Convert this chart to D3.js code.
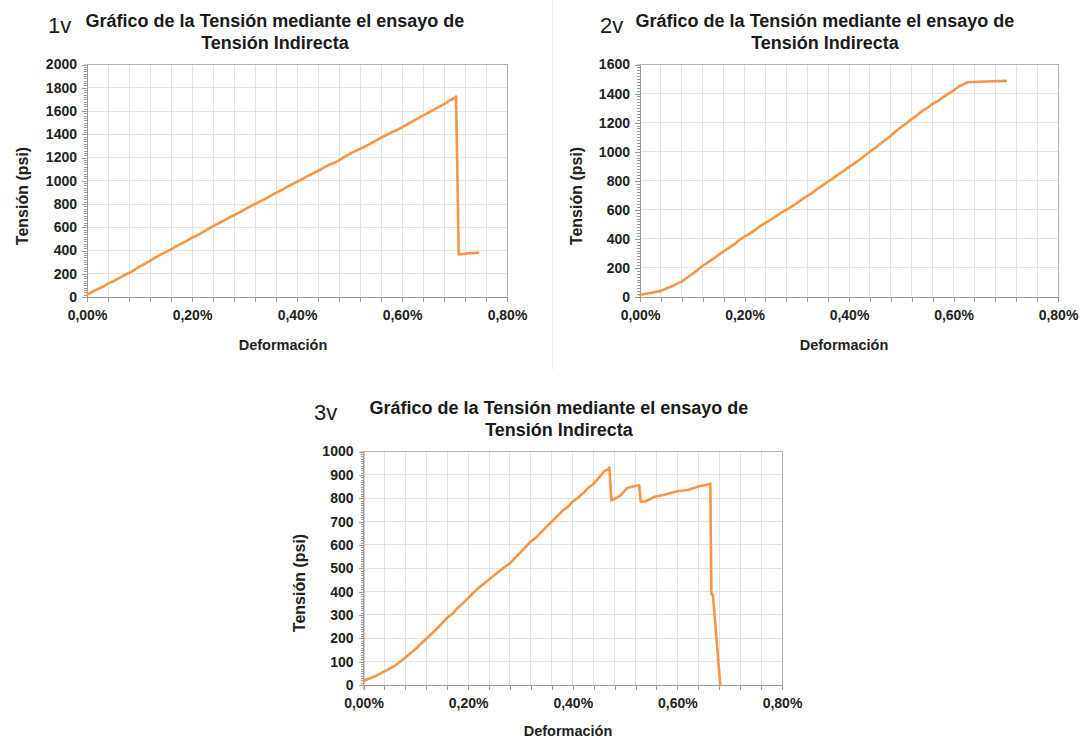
<!DOCTYPE html>
<html>
<head>
<meta charset="utf-8">
<script src="https://cdn.jsdelivr.net/npm/d3@7"></script>
<style>
  html, body { margin: 0; padding: 0; background: #ffffff; }
  svg { display: block; }
  text { font-family: "Liberation Sans", Arial, sans-serif; }
</style>
</head>
<body>
<svg id="chart" width="1084" height="742"></svg>
<script>
// Indirect tensile test: stress (psi) vs. strain (%) for three specimens

const titleLines = ["Gráfico de la Tensión mediante el ensayo de", "Tensión Indirecta"];
const xAxisTitle = "Deformación";
const yAxisTitle = "Tensión (psi)";

// Strain axis ticks (shared by the three charts)
const xTickValues = [0, 0.2, 0.4, 0.6, 0.8];
const xTickLabels = ["0,00%", "0,20%", "0,40%", "0,60%", "0,80%"];
const xGridValues = [0, 0.04, 0.08, 0.12, 0.16, 0.2, 0.24, 0.28, 0.32, 0.36, 0.4,
                     0.44, 0.48, 0.52, 0.56, 0.6, 0.64, 0.68, 0.72, 0.76, 0.8];

// Specimen 1v
const strain1 = [0, 0.01, 0.02, 0.03, 0.04, 0.05, 0.06, 0.07, 0.08, 0.09, 0.10, 0.11, 0.12, 0.13,
                 0.14, 0.15, 0.16, 0.17, 0.18, 0.19, 0.20, 0.21, 0.22, 0.23, 0.24, 0.25, 0.26,
                 0.27, 0.28, 0.29, 0.30, 0.31, 0.32, 0.33, 0.34, 0.35, 0.36, 0.37, 0.38, 0.39,
                 0.40, 0.41, 0.42, 0.43, 0.44, 0.45, 0.46, 0.47, 0.48, 0.49, 0.50, 0.51, 0.52,
                 0.53, 0.54, 0.55, 0.56, 0.57, 0.58, 0.59, 0.60, 0.61, 0.62, 0.63, 0.64, 0.65,
                 0.66, 0.67, 0.68, 0.69, 0.700, 0.703, 0.708, 0.725, 0.745];
const stress1 = [20, 45, 68, 88, 115, 135, 160, 185, 208, 232, 262, 285, 310, 338,
                 364, 386, 410, 436, 460, 483, 510, 530, 555, 582, 610, 632, 655,
                 680, 705, 726, 752, 778, 800, 822, 845, 872, 896, 918, 945, 968,
                 990, 1015, 1040, 1062, 1085, 1110, 1135, 1152, 1176, 1205, 1230, 1252, 1275,
                 1296, 1320, 1346, 1370, 1392, 1415, 1436, 1460, 1486, 1510, 1536, 1560, 1584,
                 1610, 1636, 1660, 1688, 1712, 1725, 365, 375, 380];
const yTicks1 = [0, 200, 400, 600, 800, 1000, 1200, 1400, 1600, 1800, 2000];

// Specimen 2v
const strain2 = [0, 0.02, 0.04, 0.05, 0.06, 0.07, 0.08, 0.09, 0.10, 0.11, 0.12, 0.13, 0.14, 0.15,
                 0.16, 0.17, 0.18, 0.19, 0.20, 0.21, 0.22, 0.23, 0.24, 0.25, 0.26, 0.27, 0.28,
                 0.29, 0.30, 0.31, 0.32, 0.33, 0.34, 0.35, 0.36, 0.37, 0.38, 0.39, 0.40, 0.41,
                 0.42, 0.43, 0.44, 0.45, 0.46, 0.47, 0.48, 0.49, 0.50, 0.51, 0.52, 0.53, 0.54,
                 0.55, 0.56, 0.57, 0.58, 0.59, 0.60, 0.61, 0.627, 0.65, 0.70];
const stress2 = [15, 28, 42, 58, 72, 90, 106, 132, 158, 185, 215, 238, 262, 290,
                 315, 338, 362, 392, 415, 436, 460, 488, 510, 530, 555, 580, 600,
                 622, 645, 672, 695, 718, 745, 770, 795, 818, 845, 868, 895, 918,
                 945, 972, 1000, 1025, 1055, 1082, 1110, 1142, 1170, 1196, 1225, 1250, 1280,
                 1302, 1330, 1348, 1375, 1398, 1420, 1448, 1478, 1481, 1487];
const yTicks2 = [0, 200, 400, 600, 800, 1000, 1200, 1400, 1600];

// Specimen 3v
const strain3 = [0, 0.02, 0.04, 0.06, 0.08, 0.10, 0.12, 0.14, 0.16, 0.17, 0.18, 0.19, 0.20, 0.21,
                 0.22, 0.23, 0.24, 0.25, 0.26, 0.27, 0.28, 0.29, 0.30, 0.31, 0.32, 0.33, 0.34,
                 0.35, 0.36, 0.37, 0.38, 0.39, 0.40, 0.41, 0.42, 0.43, 0.44, 0.45, 0.46, 0.468,
                 0.470, 0.474, 0.49, 0.505, 0.515, 0.527, 0.530, 0.540, 0.555, 0.575, 0.60, 0.62,
                 0.64, 0.66, 0.663, 0.665, 0.668, 0.682];
const stress3 = [18, 35, 58, 82, 118, 155, 198, 240, 288, 305, 330, 350, 372, 395,
                 416, 434, 452, 470, 488, 505, 522, 545, 568, 592, 615, 632, 655,
                 678, 700, 722, 745, 762, 785, 802, 822, 845, 862, 888, 915, 925,
                 932, 790, 810, 845, 850, 855, 785, 787, 805, 815, 830, 835,
                 850, 860, 862, 390, 385, 0];
const yTicks3 = [0, 100, 200, 300, 400, 500, 600, 700, 800, 900, 1000];

const specimens = [
  { tag: "1v", strain: strain1, stress: stress1, yTicks: yTicks1,
    box: { left: 87, top: 64.5, width: 420, height: 232.5 },
    titleX: 275, titleY: 27, tagX: 48, tagY: 33,
    yTitleX: 28, yTitleY: 196, xTitleX: 283, xTitleY: 350 },
  { tag: "2v", strain: strain2, stress: stress2, yTicks: yTicks2,
    box: { left: 640, top: 64.5, width: 418, height: 232.5 },
    titleX: 825, titleY: 27, tagX: 600, tagY: 33,
    yTitleX: 582, yTitleY: 196, xTitleX: 844, xTitleY: 350 },
  { tag: "3v", strain: strain3, stress: stress3, yTicks: yTicks3,
    box: { left: 363.5, top: 451.5, width: 418.5, height: 233.5 },
    titleX: 559, titleY: 414, tagX: 314, tagY: 420,
    yTitleX: 305, yTitleY: 583, xTitleX: 568, xTitleY: 736 }
];

const svg = d3.select("#chart");
const lineColor = "#f79646";
const axisColor = "#9a9a9a";
const gridColor = "#e3e3e3";
const labelColor = "#222222";

// faint divider between the two upper panels
svg.append("line")
  .attr("x1", 552.5).attr("x2", 552.5).attr("y1", 0).attr("y2", 370)
  .attr("stroke", "#f1f1f1").attr("stroke-width", 1);

specimens.forEach(spec => {
  const b = spec.box;
  const yMax = spec.yTicks[spec.yTicks.length - 1];
  const yStep = spec.yTicks[1] - spec.yTicks[0];

  const x = d3.scaleLinear().domain([0, 0.8]).range([b.left, b.left + b.width]);
  const y = d3.scaleLinear().domain([0, yMax]).range([b.top + b.height, b.top]);

  const g = svg.append("g");

  // title and specimen tag
  g.append("text")
    .attr("x", spec.tagX).attr("y", spec.tagY)
    .attr("font-family", "'Noto Sans', 'Open Sans', sans-serif")
    .attr("font-size", 22).attr("fill", "#1a1a1a")
    .text(spec.tag);

  const title = g.append("text")
    .attr("text-anchor", "middle")
    .attr("font-weight", "bold").attr("font-size", 18).attr("fill", "#1a1a1a");
  titleLines.forEach((line, i) => {
    title.append("tspan")
      .attr("x", spec.titleX).attr("y", spec.titleY + i * 21.5)
      .text(line);
  });

  // grid
  g.append("g")
    .selectAll("line")
    .data(xGridValues)
    .join("line")
    .attr("x1", d => x(d)).attr("x2", d => x(d))
    .attr("y1", b.top).attr("y2", b.top + b.height)
    .attr("stroke", gridColor).attr("stroke-width", 1)
    .attr("shape-rendering", "crispEdges");

  g.append("g")
    .selectAll("line")
    .data(spec.yTicks)
    .join("line")
    .attr("x1", b.left).attr("x2", b.left + b.width)
    .attr("y1", d => y(d)).attr("y2", d => y(d))
    .attr("stroke", gridColor).attr("stroke-width", 1)
    .attr("shape-rendering", "crispEdges");

  // plot frame
  g.append("rect")
    .attr("x", b.left).attr("y", b.top)
    .attr("width", b.width).attr("height", b.height)
    .attr("fill", "none").attr("stroke", "#b3b3b3").attr("stroke-width", 1)
    .attr("shape-rendering", "crispEdges");

  // y axis: major labels plus dense minor ticks
  const minorY = d3.range(0, yMax + yStep / 20, yStep / 10);
  const yAxis = d3.axisLeft(y)
    .tickValues(minorY)
    .tickSize(3)
    .tickFormat("");
  const yg = g.append("g")
    .attr("transform", `translate(${b.left},0)`)
    .call(yAxis);
  yg.select(".domain").attr("stroke", axisColor);
  yg.selectAll(".tick line").attr("stroke", axisColor).attr("shape-rendering", "crispEdges");

  const yLab = d3.axisLeft(y)
    .tickValues(spec.yTicks)
    .tickSize(5)
    .tickPadding(5)
    .tickFormat(d => String(d));
  const yl = g.append("g")
    .attr("transform", `translate(${b.left},0)`)
    .call(yLab);
  yl.select(".domain").remove();
  yl.selectAll(".tick line").attr("stroke", axisColor).attr("shape-rendering", "crispEdges");
  yl.selectAll(".tick text")
    .attr("font-family", "'Liberation Sans', Arial, sans-serif")
    .attr("font-weight", "bold").attr("font-size", 14).attr("fill", labelColor);

  // x axis
  const xAxis = d3.axisBottom(x)
    .tickValues(xGridValues)
    .tickSize(5)
    .tickPadding(8)
    .tickFormat(d => {
      const i = xTickValues.findIndex(v => Math.abs(v - d) < 1e-9);
      return i >= 0 ? xTickLabels[i] : "";
    });
  const xg = g.append("g")
    .attr("transform", `translate(0,${b.top + b.height})`)
    .call(xAxis);
  xg.select(".domain").attr("stroke", axisColor);
  xg.selectAll(".tick line").attr("stroke", axisColor).attr("shape-rendering", "crispEdges");
  xg.selectAll(".tick text")
    .attr("font-family", "'Liberation Sans', Arial, sans-serif")
    .attr("font-weight", "bold").attr("font-size", 14).attr("fill", labelColor);

  // axis titles
  g.append("text")
    .attr("x", spec.xTitleX).attr("y", spec.xTitleY)
    .attr("text-anchor", "middle")
    .attr("font-weight", "bold").attr("font-size", 14.5).attr("fill", labelColor)
    .text(xAxisTitle);

  g.append("text")
    .attr("transform", `translate(${spec.yTitleX},${spec.yTitleY}) rotate(-90)`)
    .attr("text-anchor", "middle")
    .attr("font-weight", "bold").attr("font-size", 16).attr("fill", labelColor)
    .text(yAxisTitle);

  // stress-strain curve
  const pts = spec.strain.map((s, i) => [s, spec.stress[i]]);
  g.append("path")
    .datum(pts)
    .attr("fill", "none")
    .attr("stroke", lineColor)
    .attr("stroke-width", 2.6)
    .attr("stroke-linejoin", "round")
    .attr("stroke-linecap", "round")
    .attr("d", d3.line().x(d => x(d[0])).y(d => y(d[1])));
});
</script>
</body>
</html>
